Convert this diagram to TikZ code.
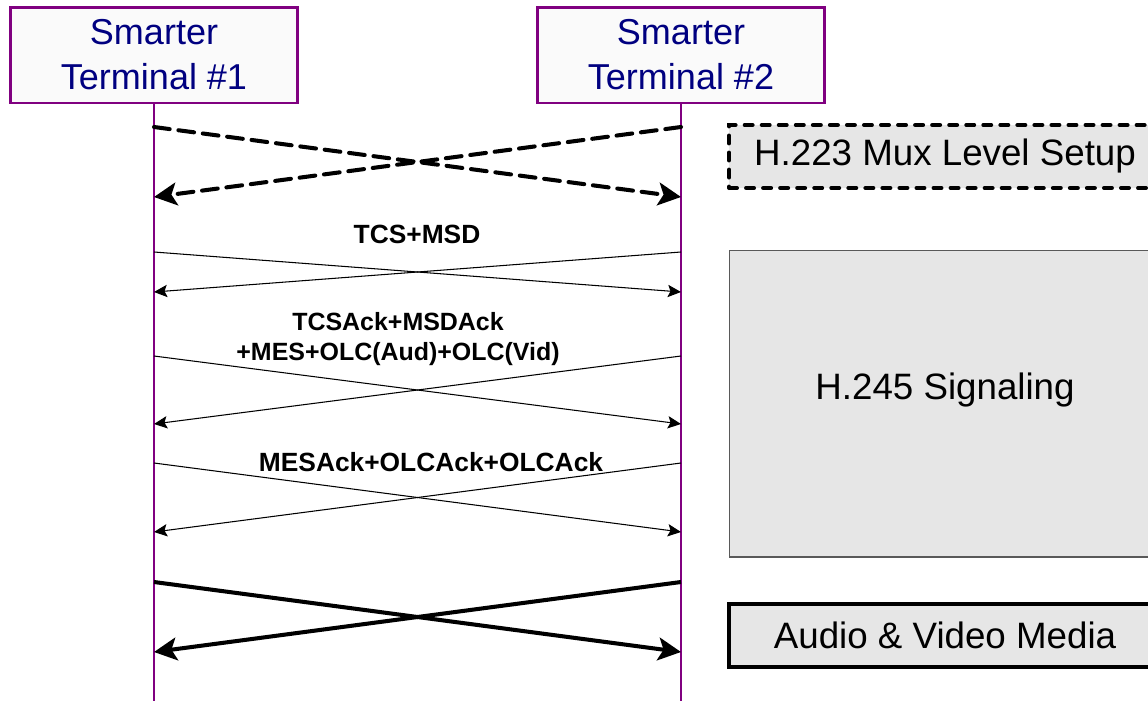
\documentclass[tikz,border=0pt]{standalone}
\usepackage{fontspec}
\setmainfont{Liberation Sans}
\usetikzlibrary{arrows.meta}
\definecolor{lifepurple}{RGB}{128,0,128}
\definecolor{termblue}{RGB}{0,0,128}
\definecolor{phasegray}{RGB}{230,230,230}
\tikzset{
	terminal/.style={draw=lifepurple, line width=1.7pt, fill=black!2, text=termblue, align=center,
		minimum width=5.76cm, minimum height=1.92cm, font=\fontsize{20.5pt}{25.6pt}\selectfont},
	lifeline/.style={lifepurple, line width=1.3pt},
	setup msg/.style={line width=2.3pt, line cap=round, dash pattern=on 9pt off 5pt, -{Stealth[length=13pt, width=13pt, inset=3pt]}},
	signal msg/.style={line width=0.6pt, -{Stealth[length=7.5pt, width=7pt, inset=1.5pt]}},
	media msg/.style={line width=2.3pt, -{Stealth[length=13pt, width=13pt, inset=3pt]}},
	msg label/.style={align=center, font=\fontsize{15pt}{17pt}\selectfont\bfseries},
	phase box/.style={fill=phasegray, minimum width=8.64cm, minimum height=1.26cm, font=\fontsize{20.9pt}{24pt}\selectfont}
}
\begin{document}
\begin{tikzpicture}[x=0.02cm, y=-0.02cm]
	\clip (0,0) rectangle (1148,700);
	% terminals and lifelines
	\node[terminal] (T1) at (154,55) {Smarter\\Terminal \#1};
	\node[terminal] (T2) at (681,55) {Smarter\\Terminal \#2};
	\draw[lifeline] (T1.south) -- (T1.south |- 0,710);
	\draw[lifeline] (T2.south) -- (T2.south |- 0,710);
	
	\foreach \nm/\y in {a/127, b/197, c/252, d/292, e/356, f/424, g/463, h/532, i/582, j/652} {
		\coordinate (L\nm) at (T1.south |- 0,\y);
		\coordinate (R\nm) at (T2.south |- 0,\y);
	}
	
	% H.223 mux setup
	\draw[setup msg] (La) -- (Rb);
	\draw[setup msg] (Ra) -- (Lb);
	
	% H.245 messages
	\draw[signal msg] (Lc) -- (Rd);
	\draw[signal msg] (Rc) -- (Ld);
	\draw[signal msg] (Le) -- (Rf);
	\draw[signal msg] (Re) -- (Lf);
	\draw[signal msg] (Lg) -- (Rh);
	\draw[signal msg] (Rg) -- (Lh);
	\node[msg label] at (417,234) {TCS+MSD};
	\node[msg label, font=\fontsize{14.2pt}{17pt}\selectfont\bfseries] at (398,339) {TCSAck+MSDAck\\+MES+OLC(Aud)+OLC(Vid)};
	\node[msg label] at (431,462) {MESAck+OLCAck+OLCAck};
	
	% media
	\draw[media msg] (Li) -- (Rj);
	\draw[media msg] (Ri) -- (Lj);
	
	% phases on the right
	\node[phase box, draw=black, line width=2.3pt, line cap=round, dash pattern=on 4.5pt off 5.2pt] (mux) at (945,156.5) {H.223 Mux Level Setup};
	\node[phase box, draw=black!65, line width=0.6pt, minimum height=6.14cm] (sig) at (945,403.5) {};
	\node[font=\fontsize{20.9pt}{24pt}\selectfont] at (945,390) {H.245 Signaling};
	\node[phase box, draw=black, line width=2.6pt] (media) at (945,635.5) {Audio \& Video Media};
\end{tikzpicture}
\end{document}
